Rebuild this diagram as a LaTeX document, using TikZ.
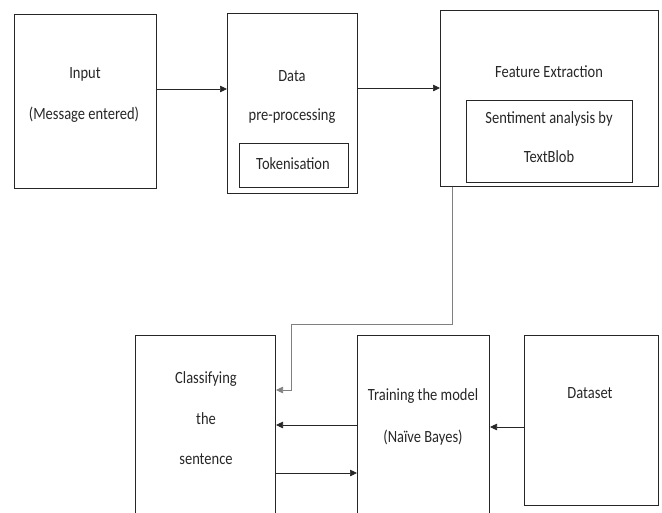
\documentclass[tikz,border=0pt]{standalone}
\usepackage{fontspec}
\setmainfont{Carlito}
\usetikzlibrary{arrows.meta}
\newcommand{\vst}[1]{\scalebox{1}[1.18]{#1}}
\begin{document}
\begin{tikzpicture}[x=1pt,y=-1pt,
  box/.style={draw=black!85,line width=1pt,anchor=north west,inner sep=0pt},
  lbl/.style={font=\fontsize{14.5}{16}\selectfont,text=black!85,inner sep=0pt,anchor=center},
  conn/.style={draw=black!85,line width=0.7pt,-{Triangle[length=7pt,width=6.5pt]}},
  gconn/.style={draw=black!50,line width=0.7pt,-{Triangle[length=7pt,width=6.5pt]}}]
\useasboundingbox (0,0) rectangle (662,512);
% boxes
\node[box,minimum width=142pt,minimum height=174pt] (input) at (14,14) {};
\node[box,minimum width=130pt,minimum height=180pt] (data) at (227,13) {};
\node[box,minimum width=109pt,minimum height=44pt] (tok) at (239,143) {};
\node[box,minimum width=218pt,minimum height=176pt] (feat) at (440,10) {};
\node[box,minimum width=166pt,minimum height=82pt] (sent) at (466,100) {};
\node[box,minimum width=140pt,minimum height=180pt] (cls) at (135,335) {};
\node[box,minimum width=132pt,minimum height=180pt] (train) at (357,335) {};
\node[box,minimum width=134pt,minimum height=170pt] (dset) at (524,335) {};
% labels
\node[lbl] (t1) at (85,74) {\vst{Input}};
\node[lbl] (t2) at (84,115) {\vst{(Message entered)}};
\node[lbl] (t3) at (292,76) {\vst{Data}};
\node[lbl] (t4) at (292,116) {\vst{pre-processing}};
\node[lbl] (t5) at (293,164) {\vst{Tokenisation}};
\node[lbl] (t6) at (549,72) {\vst{Feature Extraction}};
\node[lbl] (t7) at (549,119) {\vst{Sentiment analysis by}};
\node[lbl] (t8) at (549,157) {\vst{TextBlob}};
\node[lbl] (t9) at (206,379) {\vst{Classifying}};
\node[lbl] (t10) at (206,419) {\vst{the}};
\node[lbl] (t11) at (206,459) {\vst{sentence}};
\node[lbl] (t12) at (423,396) {\vst{Training the model}};
\node[lbl] (t13) at (423,438) {\vst{(Naïve Bayes)}};
\node[lbl] (t14) at (590,393) {\vst{Dataset}};
% coordinates
\coordinate (c1) at (452,324);
\coordinate (c2) at (291,324);
\coordinate (c3) at (291,390);
% connectors
\draw[conn] (input.east |- 0,89) -- (data.west |- 0,89);
\draw[conn] (data.east |- 0,88) -- (feat.west |- 0,88);
\draw[gconn] (feat.south -| c1) -- (c1) -- (c2) -- (c3) -- (cls.east |- c3);
\draw[conn] (train.west |- 0,425) -- (cls.east |- 0,425);
\draw[conn] (cls.east |- 0,473) -- (train.west |- 0,473);
\draw[conn] (dset.west |- 0,427) -- (train.east |- 0,427);
\end{tikzpicture}
\end{document}
